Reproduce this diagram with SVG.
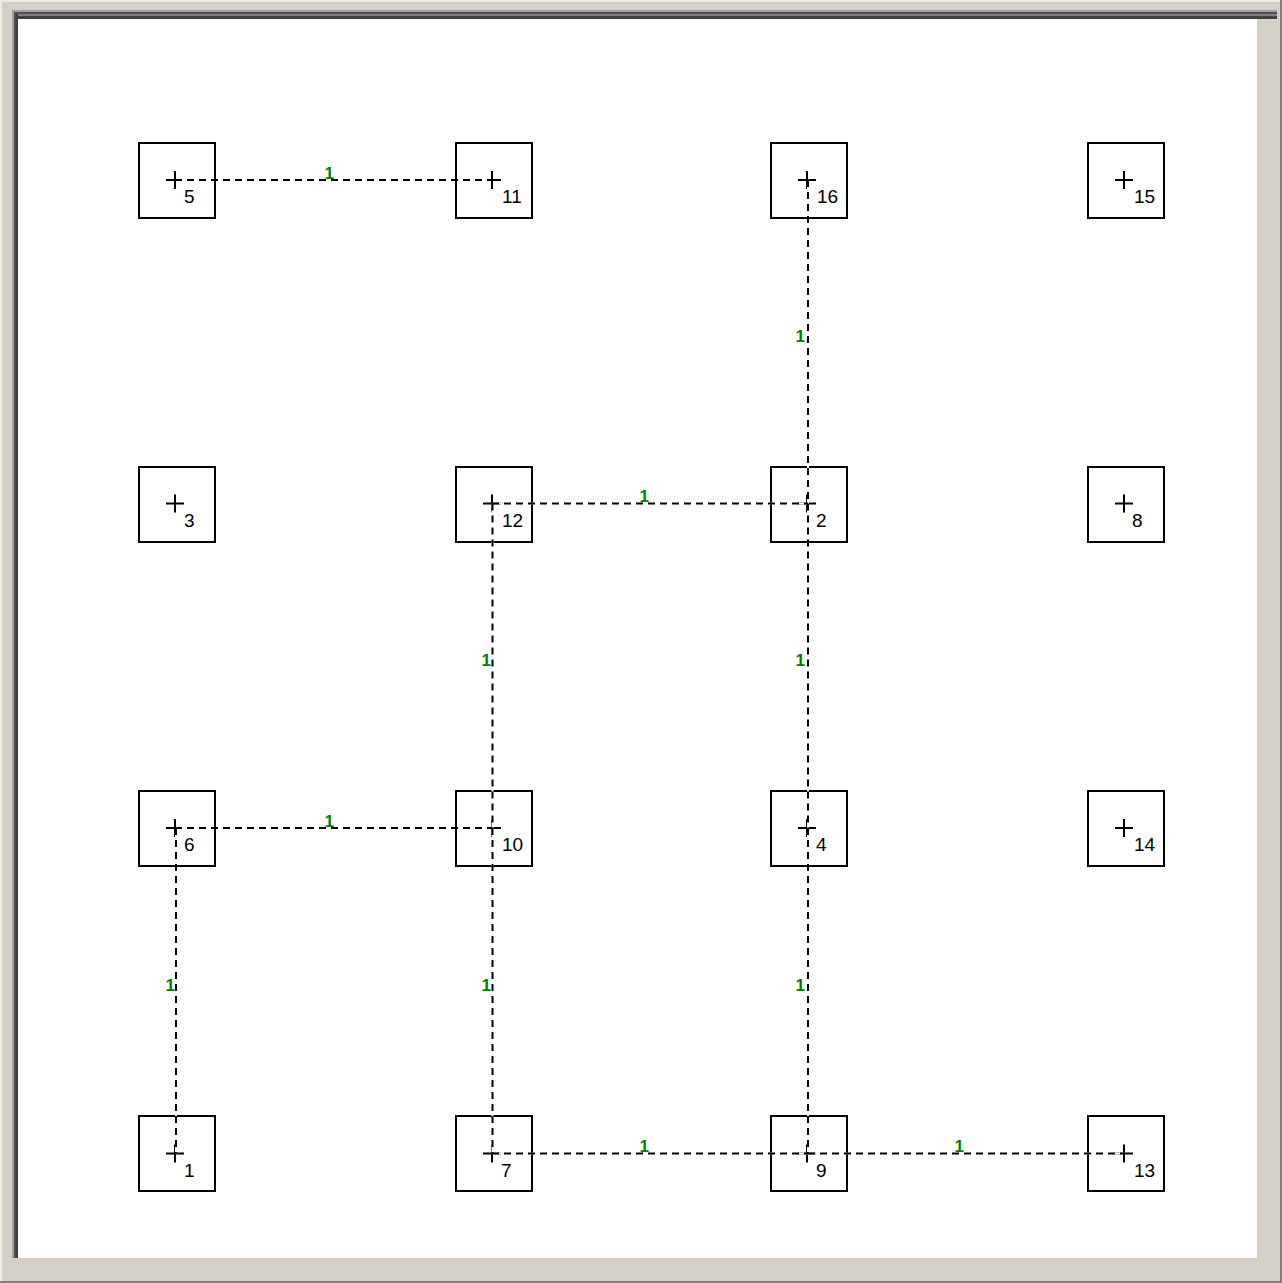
<svg xmlns="http://www.w3.org/2000/svg" width="1282" height="1283" viewBox="0 0 1282 1283">
<style>
.box{fill:none;stroke:#000;stroke-width:2}
.cross{fill:none;stroke:#000;stroke-width:2}
.nl{font-family:"Liberation Sans",Arial,sans-serif;font-size:19px;fill:#000}
.eu{stroke:#fff;stroke-width:2;fill:none}
.ed{stroke:#000;stroke-width:2;stroke-dasharray:7 5;fill:none}
.el{font-family:"Liberation Sans",Arial,sans-serif;font-size:17px;font-weight:bold;fill:#008000;text-anchor:end}
</style>
<rect x="0" y="0" width="1282" height="1283" fill="#d4d0c8"/>
<rect x="0" y="0" width="2" height="1283" fill="#ecebe6"/>
<rect x="0" y="0" width="1282" height="2" fill="#ecebe6"/>
<rect x="1280" y="0" width="2" height="1283" fill="#808080"/>
<rect x="0" y="1281" width="1282" height="2" fill="#808080"/>
<rect x="12" y="10" width="1265" height="2" fill="#a0a0a0"/>
<rect x="12" y="12" width="1265" height="2" fill="#505050"/>
<rect x="12" y="14" width="1265" height="2" fill="#808080"/>
<rect x="12" y="16" width="1265" height="3" fill="#404040"/>
<rect x="12" y="10" width="2" height="1248" fill="#a0a0a0"/>
<rect x="14" y="12" width="2" height="1246" fill="#505050"/>
<rect x="16" y="14" width="2" height="1244" fill="#404040"/>
<rect x="18" y="19" width="1239" height="1239" fill="#ffffff"/>

<g id="node-5"><rect class="box" x="139" y="143" width="76" height="75"/><path class="cross" d="M166 180H184M175 171V189"/><text class="nl" x="184" y="203">5</text></g>
<g id="node-11"><rect class="box" x="456" y="143" width="76" height="75"/><path class="cross" d="M483 180H501M492 171V189"/><text class="nl" x="502" y="203">11</text></g>
<g id="node-16"><rect class="box" x="771" y="143" width="76" height="75"/><path class="cross" d="M798 180H816M807 171V189"/><text class="nl" x="817" y="203">16</text></g>
<g id="node-15"><rect class="box" x="1088" y="143" width="76" height="75"/><path class="cross" d="M1115 180H1133M1124 171V189"/><text class="nl" x="1134" y="203">15</text></g>

<g id="node-3"><rect class="box" x="139" y="467" width="76" height="75"/><path class="cross" d="M166 503.5H184M175 494.5V512.5"/><text class="nl" x="184" y="527">3</text></g>
<g id="node-12"><rect class="box" x="456" y="467" width="76" height="75"/><path class="cross" d="M483 503.5H501M492 494.5V512.5"/><text class="nl" x="502" y="527">12</text></g>
<g id="node-2"><rect class="box" x="771" y="467" width="76" height="75"/><path class="cross" d="M798 503.5H816M807 494.5V512.5"/><text class="nl" x="816" y="527">2</text></g>
<g id="node-8"><rect class="box" x="1088" y="467" width="76" height="75"/><path class="cross" d="M1115 503.5H1133M1124 494.5V512.5"/><text class="nl" x="1132" y="527">8</text></g>

<g id="node-6"><rect class="box" x="139" y="791" width="76" height="75"/><path class="cross" d="M166 828H184M175 819V837"/><text class="nl" x="184" y="851">6</text></g>
<g id="node-10"><rect class="box" x="456" y="791" width="76" height="75"/><path class="cross" d="M483 828H501M492 819V837"/><text class="nl" x="502" y="851">10</text></g>
<g id="node-4"><rect class="box" x="771" y="791" width="76" height="75"/><path class="cross" d="M798 828H816M807 819V837"/><text class="nl" x="816" y="851">4</text></g>
<g id="node-14"><rect class="box" x="1088" y="791" width="76" height="75"/><path class="cross" d="M1115 828H1133M1124 819V837"/><text class="nl" x="1134" y="851">14</text></g>

<g id="node-1"><rect class="box" x="139" y="1116" width="76" height="75"/><path class="cross" d="M166 1153.5H184M175 1144.5V1162.5"/><text class="nl" x="184" y="1177">1</text></g>
<g id="node-7"><rect class="box" x="456" y="1116" width="76" height="75"/><path class="cross" d="M483 1153.5H501M492 1144.5V1162.5"/><text class="nl" x="501" y="1177">7</text></g>
<g id="node-9"><rect class="box" x="771" y="1116" width="76" height="75"/><path class="cross" d="M798 1153.5H816M807 1144.5V1162.5"/><text class="nl" x="816" y="1177">9</text></g>
<g id="node-13"><rect class="box" x="1088" y="1116" width="76" height="75"/><path class="cross" d="M1115 1153.5H1133M1124 1144.5V1162.5"/><text class="nl" x="1134" y="1177">13</text></g>

<g id="connectors">
<path class="eu" d="M175 180H492M808 180V503.5M492 503.5H808M492.5 503.5V828M808 503.5V828M175 828H492M176 828V1153.5M492.5 828V1153.5M808 828V1153.5M492 1153.5H808M808 1153.5H1124"/>
<path class="ed" d="M175 180H492"/>
<path class="ed" d="M808 180V503.5"/>
<path class="ed" d="M492 503.5H808"/>
<path class="ed" d="M492.5 503.5V828"/>
<path class="ed" d="M808 503.5V828"/>
<path class="ed" d="M175 828H492"/>
<path class="ed" d="M176 828V1153.5"/>
<path class="ed" d="M492.5 828V1153.5"/>
<path class="ed" d="M808 828V1153.5"/>
<path class="ed" d="M492 1153.5H808"/>
<path class="ed" d="M808 1153.5H1124"/>
<text class="el" x="334" y="179">1</text>
<text class="el" x="805" y="342">1</text>
<text class="el" x="649" y="502">1</text>
<text class="el" x="491" y="666">1</text>
<text class="el" x="805" y="666">1</text>
<text class="el" x="334" y="827">1</text>
<text class="el" x="175" y="991">1</text>
<text class="el" x="491" y="991">1</text>
<text class="el" x="805" y="991">1</text>
<text class="el" x="649" y="1152">1</text>
<text class="el" x="964" y="1152">1</text>
</g>
</svg>
